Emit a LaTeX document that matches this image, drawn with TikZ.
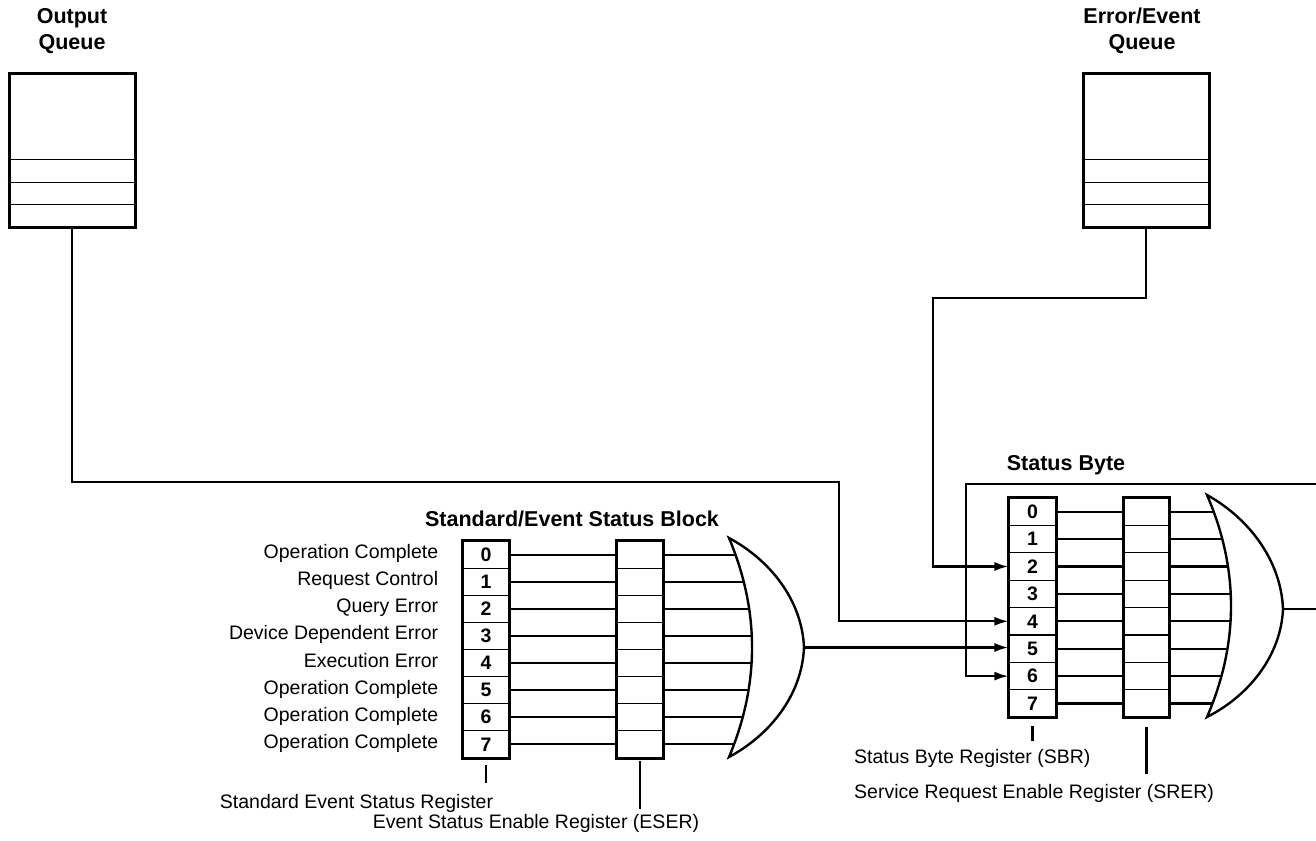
\documentclass[tikz,border=0pt]{standalone}
\usepackage{fontspec}
\setmainfont{Liberation Sans}
\usetikzlibrary{positioning, arrows.meta, calc}

\begin{document}
\begin{tikzpicture}[
  x=1pt, y=-1pt,
  lbl/.style={font=\fontsize{19.5}{22}\selectfont, inner sep=0pt},
  ttl/.style={font=\fontsize{21.5}{26}\selectfont\bfseries, align=center, inner sep=0pt},
  bitcell/.style={draw, line width=1.2pt, minimum width=46pt, minimum height=27.1pt,
                  inner sep=0pt, font=\fontsize{19.5}{22}\selectfont\bfseries},
  queue/.style={draw, line width=3pt, minimum width=126pt, minimum height=153pt, inner sep=0pt},
  frame/.style={line width=3pt},
  divider/.style={line width=1.7pt},
  wire/.style={line width=2.2pt},
  arr/.style={wire, -{Latex[length=14pt, width=9pt]}},
  gate/.style={line width=2.4pt},
  tick/.style={line width=2.2pt},
]
  \useasboundingbox (0,0) rectangle (1316,840);

  % Queues
  \node[queue] (outq) at (72,150.5) {};
  \node[queue] (errq) at (1146,150.5) {};
  \foreach \q in {outq, errq}
    \foreach \d in {69,46,24}
      \draw[divider] ($(\q.south west)+(0,-\d)$) -- ($(\q.south east)+(0,-\d)$);
  \node[ttl, above=19pt of outq] (outqt) {Output\\Queue};
  \node[ttl, above=19pt of errq, xshift=-4pt] (errqt) {Error/Event\\Queue};

  % Standard/Event status block
  \foreach \i in {0,...,7} {
    \node[bitcell] (esr\i) at (486,554.6+27.1*\i) {\i};
    \node[bitcell] (eser\i) at (640,554.6+27.1*\i) {};
    \draw[wire] (esr\i) -- (eser\i);
    \pgfmathsetmacro\yy{554.6+27.1*\i}
    \pgfmathsetmacro\xe{729+23*(1-((\yy-647.5)/109.5)^2)}
    \coordinate (esbin\i) at (\xe,\yy);
    \draw[wire] (eser\i.east) -- (esbin\i);
  }
  \draw[frame] (esr0.north west) rectangle (esr7.south east);
  \draw[frame] (eser0.north west) rectangle (eser7.south east);
  \foreach \i/\t in {0/Operation Complete, 1/Request Control, 2/Query Error,
                     3/Device Dependent Error, 4/Execution Error, 5/Operation Complete,
                     6/Operation Complete, 7/Operation Complete}
    \node[lbl, anchor=base east] (esrl\i) at ($(esr\i.west)+(-24,4)$) {\t};
  \draw[gate] (729,538) .. controls (770,560) and (802,600) .. (804,647.5)
              .. controls (802,695) and (770,735) .. (729,757)
              .. controls (759.7,684) and (759.7,611) .. cycle;
  \coordinate (esbout) at (804,647.5);
  \node[ttl, anchor=base] (esbt) at (572,526) {Standard/Event Status Block};

  % Status byte
  \foreach \i in {0,...,7} {
    \node[bitcell, minimum width=47pt, minimum height=27.4pt] (sbr\i) at (1032.5,511.7+27.4*\i) {\i};
    \node[bitcell, minimum width=45pt, minimum height=27.4pt] (srer\i) at (1146.5,511.7+27.4*\i) {};
    \draw[wire] (sbr\i) -- (srer\i);
    \pgfmathsetmacro\yy{511.7+27.4*\i}
    \pgfmathsetmacro\xe{1207+24*(1-((\yy-606)/111)^2)}
    \coordinate (sbin\i) at (\xe,\yy);
    \draw[wire] (srer\i.east) -- (sbin\i);
  }
  \draw[frame] (sbr0.north west) rectangle (sbr7.south east);
  \draw[frame] (srer0.north west) rectangle (srer7.south east);
  \draw[gate] (1207,495) .. controls (1248.5,518) and (1281,560) .. (1283,609)
              .. controls (1281,656) and (1248.5,696) .. (1207,717)
              .. controls (1239,643) and (1239,569) .. cycle;
  \coordinate (sbgate) at (1283,609);
  \coordinate (sbout) at (1316,609);
  \draw[wire] (sbgate) -- (sbout);
  \node[ttl, anchor=base] (sbt) at (1066,470) {Status Byte};

  % Connectors into the status byte
  \coordinate (eqbend) at (933,298);
  \coordinate (oqbend) at (839,482);
  \coordinate (fbin) at (1316,484);
  \coordinate (fbbend) at (966,484);
  \draw[arr] (errq.south) |- (eqbend) |- (sbr2.west);
  \draw[arr] (outq.south) |- (oqbend) |- (sbr4.west);
  \draw[arr] (esbout) -- (esbout -| sbr5.west);
  \draw[arr] (fbin) -- (fbbend) |- (sbr6.west);

  % Register names
  \draw[tick] ($(esr7.south)+(0,7)$) -- ++(0,18);
  \draw[tick] ($(eser7.south)+(0,3)$) -- ++(0,48);
  \draw[tick] ($(sbr7.south)+(0,8)$) -- ++(0,15);
  \draw[tick] ($(srer7.south)+(0,9)$) -- ++(0,47);
  \node[lbl, anchor=base] (esrname) at (356.5,808) {Standard Event Status Register};
  \node[lbl, anchor=base] (esername) at (536,828) {Event Status Enable Register (ESER)};
  \node[lbl, anchor=base west] (sbrname) at (854,763) {Status Byte Register (SBR)};
  \node[lbl, anchor=base west] (srername) at (854,798) {Service Request Enable Register (SRER)};
\end{tikzpicture}
\end{document}
